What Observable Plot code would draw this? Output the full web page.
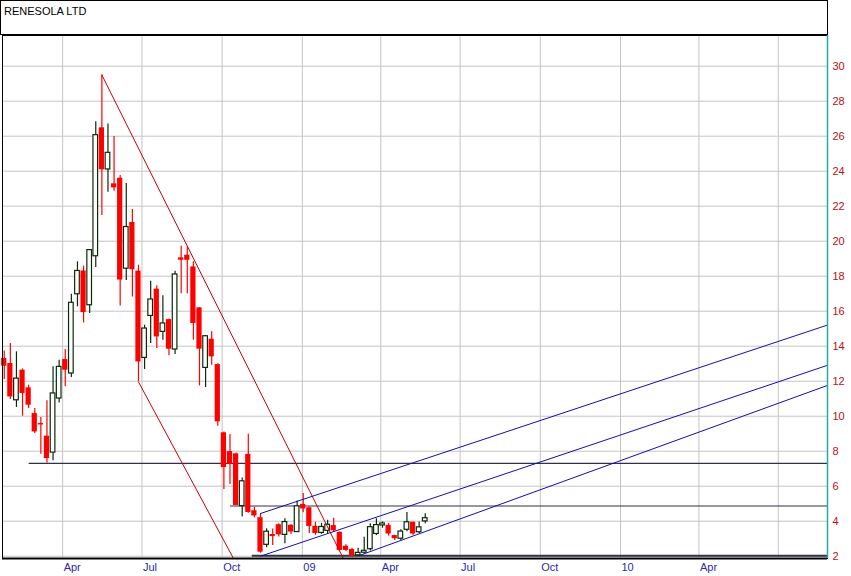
<!DOCTYPE html>
<html><head><meta charset="utf-8">
<script src="https://cdn.jsdelivr.net/npm/d3@7"></script>
<script src="https://cdn.jsdelivr.net/npm/@observablehq/plot@0.6"></script>
<style>
body{margin:0;background:#fff;font-family:"Liberation Sans",Arial,sans-serif;}
#title{box-sizing:border-box;width:828px;height:35px;border:1px solid #000;font-size:11px;position:relative;}
#title span{position:absolute;left:3px;top:4px;}
svg{display:block;}
</style></head><body>
<div id="title"><span>RENESOLA LTD</span></div>
<div id="chart"></div>
<script>
// weekly candle dates (Fridays)
const dates = ["2008-01-25","2008-02-01","2008-02-08","2008-02-15","2008-02-22","2008-02-29","2008-03-07","2008-03-14","2008-03-21","2008-03-28",
"2008-04-04","2008-04-11","2008-04-18","2008-04-25","2008-05-02","2008-05-09","2008-05-16","2008-05-23","2008-05-30","2008-06-06",
"2008-06-13","2008-06-20","2008-06-27","2008-07-04","2008-07-11","2008-07-18","2008-07-25","2008-08-01","2008-08-08","2008-08-15",
"2008-08-22","2008-08-29","2008-09-05","2008-09-12","2008-09-19","2008-09-26","2008-10-03","2008-10-10","2008-10-17","2008-10-24",
"2008-10-31","2008-11-07","2008-11-14","2008-11-21","2008-11-28","2008-12-05","2008-12-12","2008-12-19","2008-12-26","2009-01-02",
"2009-01-09","2009-01-16","2009-01-23","2009-01-30","2009-02-06","2009-02-13","2009-02-20","2009-02-27","2009-03-06","2009-03-13",
"2009-03-20","2009-03-27","2009-04-03","2009-04-10","2009-04-17","2009-04-24","2009-05-01","2009-05-08","2009-05-15","2009-05-22"];
const opens = [13.30,13.01,10.91,12.63,11.62,10.15,9.58,8.86,7.92,11.01,
13.24,12.44,16.97,18.30,16.34,19.14,26.48,24.10,23.28,23.60,
18.43,21.07,18.29,13.33,15.73,17.26,14.82,15.52,13.81,19.05,
19.20,18.53,16.19,12.76,14.40,12.95,9.05,7.98,7.85,4.86,
7.82,4.60,4.20,2.65,3.24,3.80,3.22,3.77,3.38,4.96,
4.77,3.71,3.33,3.45,3.75,3.36,2.57,2.38,2.05,2.20,
2.40,3.27,3.76,3.76,3.18,3.00,3.51,3.94,3.37,3.99];
const highs = [13.73,14.15,13.68,12.70,11.77,10.44,9.92,10.88,12.82,13.20,
13.81,16.97,18.82,18.57,19.50,26.82,29.51,26.70,25.98,23.75,
23.30,21.81,18.63,15.20,17.71,17.45,16.88,15.55,18.29,19.71,
19.68,18.82,16.20,14.60,14.82,13.00,9.10,8.96,7.90,6.47,
8.97,4.80,4.44,3.57,3.56,3.85,4.14,3.80,5.15,5.59,
4.80,3.94,3.88,4.06,4.17,3.40,2.65,2.45,2.46,3.09,
3.86,4.14,3.96,3.87,3.20,3.51,4.50,3.96,3.96,4.42];
const lows = [12.10,10.95,10.50,10.00,10.44,9.01,7.83,7.33,7.45,10.76,
11.68,12.21,16.25,15.33,15.87,18.50,21.47,22.80,22.86,16.30,
17.76,16.81,11.96,12.67,14.15,13.87,14.34,13.45,13.52,17.00,
17.00,14.34,11.73,11.64,12.91,9.43,5.81,6.10,4.90,4.24,
4.45,4.20,2.17,2.48,2.61,3.10,2.71,3.24,3.35,4.48,
3.30,3.20,3.25,3.26,3.35,2.30,2.25,1.98,2.00,2.15,
2.30,3.18,3.60,3.15,2.90,2.90,3.40,3.18,3.30,3.85];
const closes = [12.86,11.10,12.15,11.30,10.63,9.10,9.50,7.58,11.30,12.82,
12.63,16.48,18.30,15.92,19.49,26.06,24.08,25.05,23.05,17.78,
20.81,18.37,13.10,15.01,16.67,14.53,15.30,13.83,18.10,18.91,
18.91,15.30,13.83,14.57,13.39,9.68,7.07,7.25,4.90,6.28,
4.50,4.30,2.23,3.40,3.12,3.22,3.95,3.38,4.85,4.70,
3.70,3.30,3.67,3.80,3.45,2.33,2.33,2.00,2.19,2.31,
3.66,3.78,3.87,3.27,3.00,3.41,3.94,3.27,3.65,4.17];

// axis ticks
const yTicks = [2,4,6,8,10,12,14,16,18,20,22,24,26,28,30];
const xGridDates = ["2008-04-01","2008-07-01","2008-10-01","2009-01-01","2009-04-01","2009-07-01","2009-10-01","2010-01-01","2010-04-01","2010-07-01"];
const xLabels = ["Apr","Jul","Oct","09","Apr","Jul","Oct","10","Apr",""];

// drawn lines (value endpoints)
const redLineStarts = ["2008-05-16","2008-06-27"];
const redLineStartValues = [29.5, 11.96];
const redLineEnds = ["2009-02-17","2008-10-14"];
const redLineEndValues = [1.87, 1.87];

const blueLineStarts = ["2008-11-14","2008-11-14","2009-03-08"];
const blueLineStartValues = [4.44, 2.0, 2.05];
const blueLineEnds = ["2010-08-26","2010-08-26","2010-08-26"];
const blueLineEndValues = [15.2, 12.9, 11.75];

const levelStarts = ["2008-02-22","2008-10-10","2008-11-04"];
const levelValues = [7.3, 4.87, 2.02];
const levelEnd = "2010-08-26";

const D = s => new Date(s);
const candles = dates.map((d,i)=>({date:D(d),open:opens[i],high:highs[i],low:lows[i],close:closes[i]}));
const ups = candles.filter(c=>c.close>=c.open);
const downs = candles.filter(c=>c.close<c.open);
const redLines = redLineStarts.map((s,i)=>({x1:D(s),y1:redLineStartValues[i],x2:D(redLineEnds[i]),y2:redLineEndValues[i]}));
const blueLines = blueLineStarts.map((s,i)=>({x1:D(s),y1:blueLineStartValues[i],x2:D(blueLineEnds[i]),y2:blueLineEndValues[i]}));
const levels = levelStarts.map((s,i)=>({x1:D(s),x2:D(levelEnd),y:levelValues[i],w:i===2?2:1.2}));
const xTicks = xGridDates.map((d,i)=>({date:D(d),label:xLabels[i]}));

const xDomain = [D("2008-01-23"), D("2010-08-26T12:00Z")];
const yDomain = [1.869, 31.754];
const off = (d,h)=>d3.utcHour.offset(d,h);

const chart = Plot.plot({
  width: 851, height: 541,
  marginLeft: 2, marginRight: 24, marginTop: 0, marginBottom: 18,
  x: {type:"utc", domain:xDomain, axis:null},
  y: {domain:yDomain, axis:null},
  style: {fontFamily:"'Liberation Sans', Arial, sans-serif", fontSize:"11px", background:"#fff", overflow:"visible"},
  marks: [
    Plot.ruleY(yTicks, {y:d=>d, stroke:"#c4c4c4", strokeWidth:1}),
    Plot.ruleX(xTicks, {x:"date", stroke:"#c4c4c4", strokeWidth:1}),
    Plot.link(levels, {x1:"x1", x2:"x2", y1:"y", y2:"y", stroke:"#30304a", strokeWidth:d=>d.w}),
    Plot.ruleX(downs, {x:"date", y1:"low", y2:"high", stroke:"#ff0000", strokeWidth:1.2}),
    Plot.ruleX(ups, {x:"date", y1:"low", y2:"high", stroke:"#0a2a0a", strokeWidth:1.2}),
    Plot.rect(downs, {x1:d=>off(d.date,-72), x2:d=>off(d.date,72), y1:"open", y2:"close", fill:"#ff0000"}),
    Plot.rect(ups, {x1:d=>off(d.date,-64), x2:d=>off(d.date,64), y1:"open", y2:"close", fill:"#fff", stroke:"#0a2a0a", strokeWidth:1.2}),
    Plot.link(redLines, {x1:"x1", y1:"y1", x2:"x2", y2:"y2", stroke:"#cc0000", strokeWidth:1, clip:true}),
    Plot.link(blueLines, {x1:"x1", y1:"y1", x2:"x2", y2:"y2", stroke:"#1010b0", strokeWidth:1, clip:true}),
    Plot.frame({stroke:"#000"}),
    Plot.ruleX([xDomain[1]], {stroke:"#22aab0", strokeWidth:1.5}),
    Plot.ruleY([yDomain[0]], {stroke:"#000", strokeWidth:2}),
    Plot.text(xTicks, {x:"date", text:"label", frameAnchor:"bottom", dy:12, dx:1, textAnchor:"start", fill:"#2a2aa8"}),
    Plot.text(yTicks, {y:d=>d, text:d=>String(d), frameAnchor:"right", dx:5, textAnchor:"start", fill:"#b81010"})
  ]
});
document.getElementById("chart").appendChild(chart);
</script>
</body></html>
